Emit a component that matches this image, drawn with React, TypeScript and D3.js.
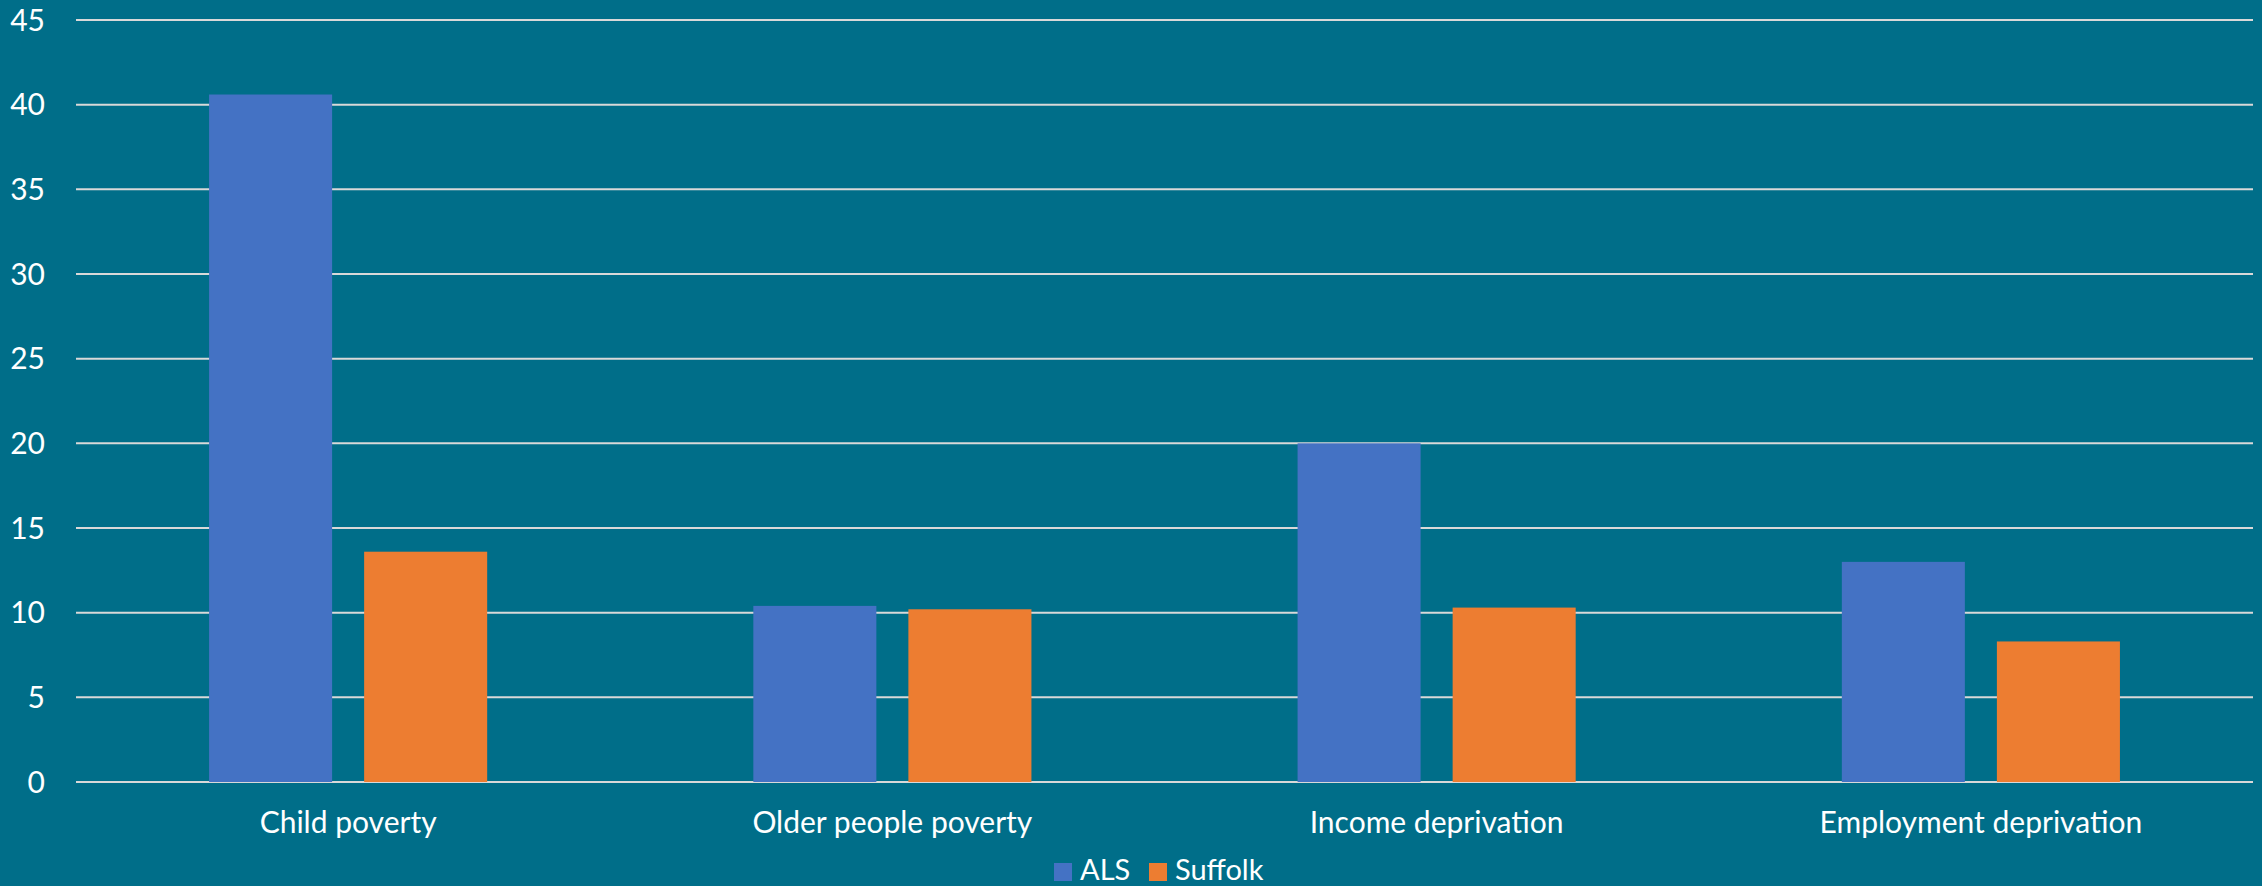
import React, { useEffect, useRef } from 'react';
import * as d3 from 'd3';

const categories = ['Child poverty', 'Older people poverty', 'Income deprivation', 'Employment deprivation'];
const seriesNames = ['ALS', 'Suffolk'];
const alsValues = [40.6, 10.4, 20.0, 13.0];
const suffolkValues = [13.6, 10.2, 10.3, 8.3];
const yTicks = [0, 5, 10, 15, 20, 25, 30, 35, 40, 45];

const colors: Record<string, string> = { ALS: '#4472C4', Suffolk: '#ED7D31' };

const App: React.FC = () => {
    const svgRef = useRef<SVGSVGElement>(null);
    const width = 2262;
    const height = 886;

    useEffect(() => {
        if (!svgRef.current) return;
        const svg = d3.select(svgRef.current);
        svg.selectAll('*').remove();

        const font = 'Lato, "Noto Sans", sans-serif';
        const margin = { top: 20, right: 9, bottom: 104, left: 76 };
        const innerWidth = width - margin.left - margin.right;
        const innerHeight = height - margin.top - margin.bottom;

        svg.append('rect')
            .attr('width', width)
            .attr('height', height)
            .attr('fill', '#006E89');

        const g = svg.append('g')
            .attr('transform', `translate(${margin.left},${margin.top})`);

        const x0 = d3.scaleBand<string>()
            .domain(categories)
            .range([0, innerWidth])
            .padding(0);

        // inner band for the two series, centred in each category
        const groupWidth = x0.bandwidth() * 0.511;
        const x1 = d3.scaleBand<string>()
            .domain(seriesNames)
            .range([(x0.bandwidth() - groupWidth) / 2, (x0.bandwidth() + groupWidth) / 2])
            .paddingInner(0.2065)
            .paddingOuter(0);

        const y = d3.scaleLinear()
            .domain([0, 45])
            .range([innerHeight, 0]);

        // gridlines
        g.selectAll('line.grid')
            .data(yTicks)
            .enter()
            .append('line')
            .attr('class', 'grid')
            .attr('x1', 0)
            .attr('x2', innerWidth)
            .attr('y1', d => y(d))
            .attr('y2', d => y(d))
            .attr('stroke', '#D9D9D9')
            .attr('stroke-width', 2);

        // y labels
        g.selectAll('text.ytick')
            .data(yTicks)
            .enter()
            .append('text')
            .attr('class', 'ytick')
            .attr('x', -31)
            .attr('y', d => y(d))
            .attr('dy', '0.36em')
            .attr('text-anchor', 'end')
            .attr('fill', '#FFFFFF')
            .style('font-family', font)
            .style('font-size', '30px')
            .text(d => d);

        const data = categories.map((c, i) => ({ category: c, ALS: alsValues[i], Suffolk: suffolkValues[i] }));

        const groups = g.selectAll('g.cat')
            .data(data)
            .enter()
            .append('g')
            .attr('class', 'cat')
            .attr('transform', d => `translate(${x0(d.category)},0)`);

        groups.selectAll('rect')
            .data(d => seriesNames.map(s => ({ key: s, value: (d as any)[s] as number })))
            .enter()
            .append('rect')
            .attr('x', d => x1(d.key)!)
            .attr('width', x1.bandwidth())
            .attr('y', d => y(d.value))
            .attr('height', d => innerHeight - y(d.value))
            .attr('fill', d => colors[d.key]);

        // category labels
        g.selectAll('text.xtick')
            .data(categories)
            .enter()
            .append('text')
            .attr('class', 'xtick')
            .attr('x', d => x0(d)! + x0.bandwidth() / 2)
            .attr('y', innerHeight + 51)
            .attr('text-anchor', 'middle')
            .attr('fill', '#FFFFFF')
            .style('font-family', font)
            .style('font-size', '30px')
            .text(d => d);

        // legend
        const legendX = [1054, 1149];
        const legend = svg.append('g');
        seriesNames.forEach((s, i) => {
            legend.append('rect')
                .attr('x', legendX[i])
                .attr('y', 863)
                .attr('width', 18)
                .attr('height', 18)
                .attr('fill', colors[s]);
            legend.append('text')
                .attr('x', legendX[i] + 26)
                .attr('y', 880)
                .attr('fill', '#FFFFFF')
                .style('font-family', font)
                .style('font-size', '29px')
                .text(s);
        });
    }, []);

    return (
        <svg
            ref={svgRef}
            width={width}
            height={height}
            style={{ position: 'absolute', left: 0, top: 0, display: 'block' }}
        />
    );
};

export default App;
